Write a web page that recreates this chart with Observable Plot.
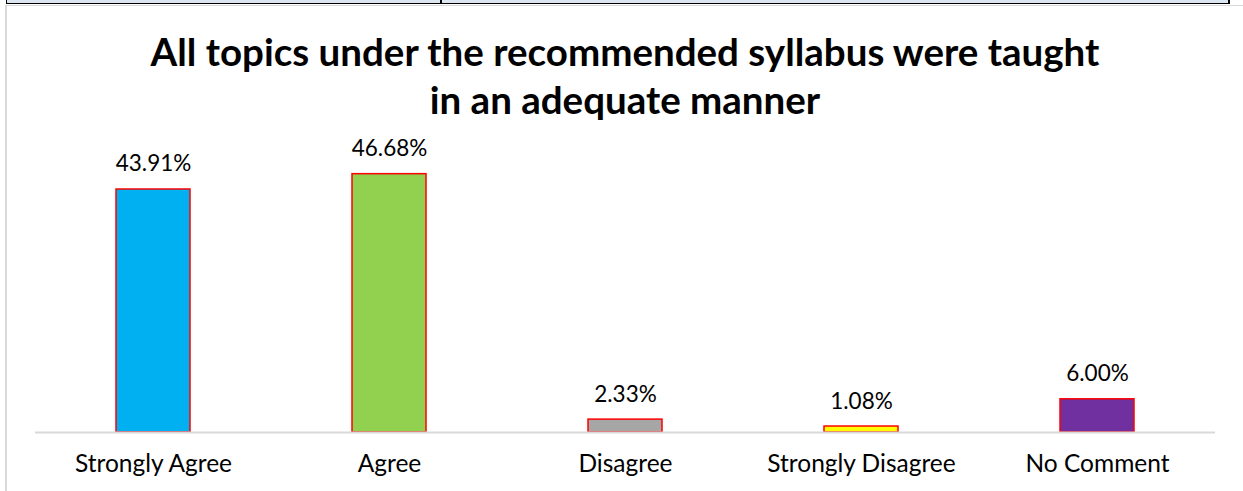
<!DOCTYPE html>
<html>
<head>
<meta charset="utf-8">
<script src="https://cdn.jsdelivr.net/npm/d3@7"></script>
<script src="https://cdn.jsdelivr.net/npm/@observablehq/plot@0.6"></script>
<style>
  html, body { margin: 0; padding: 0; background: #fff; }
  #wrap { position: relative; width: 1243px; height: 491px; overflow: hidden; }
  #strip { position: absolute; left: 6px; top: 0; width: 1221px; height: 3px; background: #dce6f1;
           border-left: 1px solid #000; border-right: 2px solid #000; border-bottom: 1px solid #000; box-sizing: content-box; }
  #divider { position: absolute; left: 440px; top: 0; width: 2px; height: 4px; background: #000; }
  #topgray { position: absolute; left: 6px; top: 5px; width: 1237px; height: 1px; background: #d9d9d9; }
  #leftgray { position: absolute; left: 5px; top: 5px; width: 2px; height: 486px; background: #d9d9d9; }
  #title { position: absolute; left: 0; top: 27px; width: 1250px; text-align: center;
           font-family: Lato, sans-serif; font-weight: 700; font-size: 38.5px; line-height: 48px; color: #000; }
  #chart { position: absolute; left: 0; top: 130px; }
</style>
</head>
<body>
<div id="wrap">
  <div id="strip"></div>
  <div id="divider"></div>
  <div id="topgray"></div>
  <div id="leftgray"></div>
  <div id="title">All topics under the recommended syllabus were taught<br>in an adequate manner</div>
  <div id="chart"></div>
</div>
<script>
const categories = ["Strongly Agree", "Agree", "Disagree", "Strongly Disagree", "No Comment"];
const values = [43.91, 46.68, 2.33, 1.08, 6.00];
const colors = ["#00B0F0", "#92D050", "#A6A6A6", "#FFFF00", "#7030A0"];

const data = categories.map((c, i) => ({category: c, value: values[i], color: colors[i]}));

const plot = Plot.plot({
  width: 1243,
  height: 361,
  marginLeft: 35,
  marginRight: 28,
  marginTop: 0,
  marginBottom: 59,
  style: {fontFamily: "Lato, sans-serif", background: "transparent"},
  x: {domain: categories, paddingInner: 0.686, paddingOuter: 0.343, label: null},
  y: {domain: [0, 54.57], axis: null},
  marks: [
    Plot.barY(data, {x: "category", y: "value", fill: "color", stroke: "#FF0000", strokeWidth: 1.5}),
    Plot.ruleY([0], {stroke: "#d9d9d9", strokeWidth: 2}),
    Plot.text(data, {x: "category", y: "value", text: d => d.value.toFixed(2) + "%", lineAnchor: "bottom", dy: -18, fontSize: 22.5, fill: "#000"}),
    Plot.axisX({tickSize: 0, tickPadding: 22, fontSize: 24.5, color: "#000", label: null})
  ]
});
document.getElementById("chart").appendChild(plot);
</script>
</body>
</html>
